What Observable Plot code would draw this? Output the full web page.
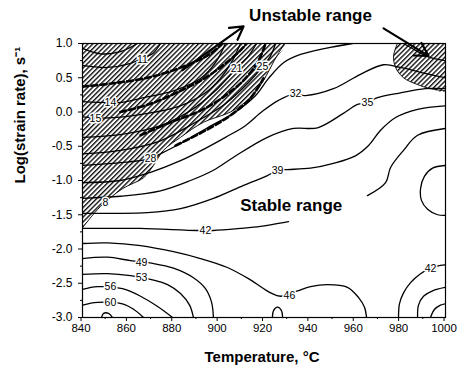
<!DOCTYPE html>
<html><head><meta charset="utf-8">
<script src="https://cdn.jsdelivr.net/npm/d3@7"></script>
<script src="https://cdn.jsdelivr.net/npm/@observablehq/plot@0.6"></script>
<style>body{margin:0;background:#fff;} #chart{width:457px;height:371px;}</style>
</head><body><div id="chart"></div>
<script>
// Axis ticks
const xTicks = [840,860,880,900,920,940,960,980,1000];
const xMinor = [850,870,890,910,930,950,970,990];
const yTicks = [-3,-2.5,-2,-1.5,-1,-0.5,0,0.5,1];
const yMinor = [-2.75,-2.25,-1.75,-1.25,-0.75,-0.25,0.25,0.75];

// Efficiency contours: [temperature °C, log strain rate]
const c8  = [[840,0.93],[847.9,0.85],[856.7,0.88],[864.2,1.0]];
const c11 = [[840,0.68],[851,0.65],[861.2,0.71],[867.3,0.80],[870.9,0.85],[874.4,1.0]];
const c14 = [[840,0.15],[857.6,0.14],[865.6,0.20],[880.1,0.31],[892,0.49],[898.6,0.72],[903,1.0]];
const c15 = [[840,-0.07],[849.3,-0.09],[868.7,-0.02],[883.2,0.09],[894.2,0.28],[900.8,0.49],[906.1,0.75],[909.6,1.0]];
const c21 = [[840,-0.37],[856.7,-0.33],[874.4,-0.20],[887.6,0.02],[898.6,0.31],[907.9,0.64],[913.2,0.82],[916.7,1.0]];
const c25 = [[840,-0.61],[856.7,-0.56],[874.4,-0.42],[889.8,-0.15],[903,0.12],[913.2,0.43],[919.3,0.66],[922.9,0.82],[925.1,1.0]];
const c28 = [[840,-0.78],[856.7,-0.74],[870,-0.68],[874.4,-0.61],[883.2,-0.46],[895.1,-0.23],[907.4,0.0],[916.3,0.24],[922,0.49],[928.6,0.72],[936.1,0.84],[947.1,0.93],[959,1.0]];
const c32 = [[840,-1.03],[856.7,-1.0],[870,-0.88],[883.2,-0.71],[894.2,-0.53],[903,-0.37],[911.8,-0.2],[919.3,0.01],[926.4,0.17],[933,0.26],[938.3,0.24],[950.6,0.34],[962.5,0.55],[972.7,0.69],[980.2,0.65],[989,0.58],[1000,0.5]];
const c35 = [[840,-1.26],[856.7,-1.23],[874.4,-1.15],[887.6,-1.0],[897.7,-0.85],[906.6,-0.66],[921.5,-0.37],[933,-0.24],[943.6,-0.23],[955,-0.02],[961.2,0.11],[965.6,0.14],[970,0.21],[980.2,0.28],[991.2,0.34],[1000,0.34]];
const c39 = [[840,-1.48],[853.7,-1.48],[868.7,-1.47],[883.2,-1.41],[897.7,-1.26],[911,-1.07],[921.5,-0.93],[926,-0.85],[930.4,-0.84],[940.5,-0.82],[950.6,-0.75],[960.3,-0.64],[966.1,-0.49],[971.3,-0.27],[978,-0.08],[987.7,0.04],[1000,0.09]];
const c42a = [[840,-1.70],[851,-1.70],[865.6,-1.70],[890.7,-1.73],[897.7,-1.73],[909.6,-1.70],[918.5,-1.67],[930.8,-1.60]];
const c42b = [[965.6,-1.22],[973.6,-1.03],[975.8,-0.81],[981.5,-0.56],[987.7,-0.34],[1000,-0.24]];
const cOval = [[1000,-0.78],[994.3,-0.82],[990.7,-0.94],[989,-1.12],[989.4,-1.29],[992.1,-1.42],[996.5,-1.50],[1000,-1.51]];
const c46 = [[840,-1.92],[851,-1.91],[865.6,-1.95],[880.1,-2.04],[892,-2.14],[903.9,-2.27],[914,-2.45],[922.9,-2.64],[927.3,-2.69],[934.8,-2.61],[940.5,-2.55],[948,-2.52],[956.8,-2.56],[961.7,-2.71],[964.3,-2.85],[965.2,-3.0]];
const c49 = [[840,-2.14],[851,-2.12],[861.2,-2.17],[870.9,-2.21],[880.1,-2.28],[888.9,-2.42],[894.2,-2.58],[896.9,-2.78],[897.7,-3.0]];
const c53 = [[840,-2.37],[851,-2.36],[861.2,-2.39],[870.9,-2.45],[877.5,-2.52],[883.2,-2.65],[887.2,-2.82],[888.9,-3.0]];
const c56 = [[840,-2.59],[846.6,-2.55],[857.6,-2.58],[865.6,-2.69],[873.1,-2.84],[879.7,-3.0]];
const c60 = [[840,-2.82],[846.6,-2.78],[857.6,-2.80],[862.5,-2.88],[866.9,-3.0]];
const c63 = [[848.4,-3.0],[849.3,-2.94],[851.5,-2.94],[853.2,-3.0]];
const c46b = [[923.7,-3.0],[924.2,-2.90],[926,-2.85],[927.7,-2.90],[928.2,-3.0]];
const c42r = [[979.3,-3.0],[979.7,-2.80],[981.5,-2.64],[984.6,-2.49],[989,-2.36],[993.4,-2.28],[997.8,-2.24],[1000,-2.23]];
const c39r = [[987.7,-3.0],[988.1,-2.82],[990.3,-2.69],[994.3,-2.61],[1000,-2.56]];
const c35r = [[993.4,-3.0],[995.2,-2.88],[997.8,-2.82],[1000,-2.80]];
const cTopR = [[981.5,1.0],[986.8,0.90],[992.1,0.81],[1000,0.75]];

// Instability contours (thick dashed)
const d1 = [[840,0.37],[853.7,0.42],[868.7,0.50],[880.1,0.61],[890.7,0.75],[896.4,0.85],[901.7,1.0]];
const d2 = [[856.7,0.0],[870,0.12],[883.2,0.31],[894.2,0.50],[903,0.71],[909.6,0.90],[912.3,1.0]];
const d3 = [[865.6,-0.34],[878.8,-0.15],[892,0.02],[903,0.24],[911.8,0.49],[917.6,0.75],[920.7,1.0]];
const d4 = [[881,-0.49],[894.2,-0.27],[905.2,-0.05],[914,0.20],[919.8,0.49]];

// Unstable (hatched) domains
const hatchA = [[840,1.0],[929,1.0],[924.5,0.75],[919.8,0.46],[914,0.21],[905.2,0.0],[893.3,-0.15],[883.2,-0.37],[875.7,-0.56],[871.3,-0.78],[866.9,-0.96],[857.6,-1.12],[847.9,-1.38],[840,-1.69]];
const hatchB = [[978.8,1.0],[977.1,0.82],[978,0.65],[981.5,0.50],[987.7,0.40],[993.4,0.34],[1000,0.31],[1000,1.0]];

// Contour labels
const labelText = ["11","14","15","21","25","28","8","32","35","39","42","49","53","56","60","46","42"];
const labelT = [866.4,852.3,845.7,907.9,919.3,870,850.1,933.9,965.6,926,894.2,866,866,852.3,852.3,931.2,993.4];
const labelL = [0.77,0.14,-0.09,0.64,0.66,-0.68,-1.32,0.27,0.14,-0.85,-1.73,-2.20,-2.42,-2.55,-2.78,-2.68,-2.28];

// Annotations
const annText = ["Unstable range","Stable range"];
const annT = [940.5,932];
const annL = [1.41,-1.37];
const arrowT1 = [884.1,972.7], arrowL1 = [0.61,1.22];
const arrowT2 = [911.0,992.5], arrowL2 = [1.25,0.82];

const toRows = (list) => list.flatMap(([id, pts]) => pts.map(([T, L]) => ({id, T, L})));
const solidRows = toRows([["8",c8],["11",c11],["14",c14],["15",c15],["21",c21],["25",c25],["28",c28],["32",c32],["35",c35],["39",c39],["42a",c42a],["42b",c42b],["oval",cOval],["46",c46],["49",c49],["53",c53],["56",c56],["60",c60],["63",c63],["46b",c46b],["42r",c42r],["39r",c39r],["35r",c35r],["topR",cTopR]]);
const dashRows = toRows([["d1",d1],["d2",d2],["d3",d3],["d4",d4]]);
const hatchARows = toRows([["A",hatchA]]);
const hatchBRows = toRows([["B",hatchB]]);
const edgeRows = toRows([["A",hatchA.slice(1)],["B",hatchB.slice(0,7)]]);
const labels = labelText.map((t,i) => ({t, T: labelT[i], L: labelL[i]}));
const anns = annText.map((t,i) => ({t, T: annT[i], L: annL[i]}));
const arrows = arrowT1.map((_,i) => ({T1: arrowT1[i], L1: arrowL1[i], T2: arrowT2[i], L2: arrowL2[i]}));

const svg = Plot.plot({
  width: 457, height: 371,
  marginLeft: 82, marginRight: 12, marginTop: 43, marginBottom: 54,
  x: {domain: [840, 1000], label: null},
  y: {domain: [-3, 1], label: null},
  style: {fontFamily: "'Liberation Sans', Arial, sans-serif", fontSize: "12px", color: "#000", background: "#fff", overflow: "visible"},
  marks: [
    Plot.line(hatchARows, {x: "T", y: "L", fill: "url(#hatch)", stroke: "none", curve: "catmull-rom", clip: true}),
    Plot.line(hatchBRows, {x: "T", y: "L", fill: "url(#hatch)", stroke: "none", curve: "catmull-rom", clip: true}),
    Plot.line(edgeRows, {x: "T", y: "L", z: "id", stroke: "#000", strokeWidth: 0.9, curve: "catmull-rom", clip: true}),
    Plot.line(solidRows, {x: "T", y: "L", z: "id", stroke: "#000", strokeWidth: 1.3, curve: "catmull-rom", clip: true}),
    Plot.line(dashRows, {x: "T", y: "L", z: "id", stroke: "#000", strokeWidth: 2.6, strokeDasharray: "6,3", curve: "catmull-rom", clip: true}),
    Plot.text(labels, {x: "T", y: "L", text: "t", fontSize: 10.5, fill: "#000", stroke: "#fff", strokeWidth: 3}),
    Plot.axisX({ticks: xTicks, tickSize: 4, tickPadding: 2, tickFormat: d => String(d), fontSize: 11.5, dx: -1.5, label: null}),
    Plot.axisX({ticks: xMinor, tickSize: 2, tickFormat: () => "", label: null}),
    Plot.axisY({ticks: yTicks, tickSize: 4, tickPadding: 6, tickFormat: d => d.toFixed(1), label: null}),
    Plot.axisY({ticks: yMinor, tickSize: 2, tickFormat: () => "", label: null}),
    Plot.frame({stroke: "#000", strokeWidth: 1.2}),
    Plot.arrow(arrows, {x1: "T1", y1: "L1", x2: "T2", y2: "L2", stroke: "#000", strokeWidth: 2.2, headLength: 10}),
    Plot.text(anns, {x: "T", y: "L", text: "t", fontSize: 17, fontWeight: "bold", fill: "#000", stroke: "#fff", strokeWidth: 3, ariaLabel: "ann"}),
    Plot.text(["Temperature, °C"], {frameAnchor: "bottom", dy: 44, dx: -2, fontSize: 15, fontWeight: "bold"}),
    Plot.text(["Log(strain rate), s\u207B\u00B9"], {frameAnchor: "left", dx: -62, dy: 3, rotate: -90, fontSize: 15, fontWeight: "bold"})
  ]
});

const NS = "http://www.w3.org/2000/svg";
const defs = document.createElementNS(NS, "defs");
const pat = document.createElementNS(NS, "pattern");
pat.setAttribute("id", "hatch");
pat.setAttribute("patternUnits", "userSpaceOnUse");
pat.setAttribute("width", "3.4");
pat.setAttribute("height", "3.4");
pat.setAttribute("patternTransform", "rotate(45)");
const bg = document.createElementNS(NS, "rect");
bg.setAttribute("width", "3.4"); bg.setAttribute("height", "3.4"); bg.setAttribute("fill", "#fff");
const ln = document.createElementNS(NS, "line");
ln.setAttribute("x1", "0.7"); ln.setAttribute("y1", "0"); ln.setAttribute("x2", "0.7"); ln.setAttribute("y2", "3.4");
ln.setAttribute("stroke", "#000"); ln.setAttribute("stroke-width", "1.3");
pat.appendChild(bg); pat.appendChild(ln); defs.appendChild(pat);
svg.insertBefore(defs, svg.firstChild);
svg.querySelectorAll('g[aria-label="ann"] text').forEach(t => t.setAttribute("letter-spacing", "1.2px"));

document.getElementById("chart").appendChild(svg);
</script>
</body></html>
